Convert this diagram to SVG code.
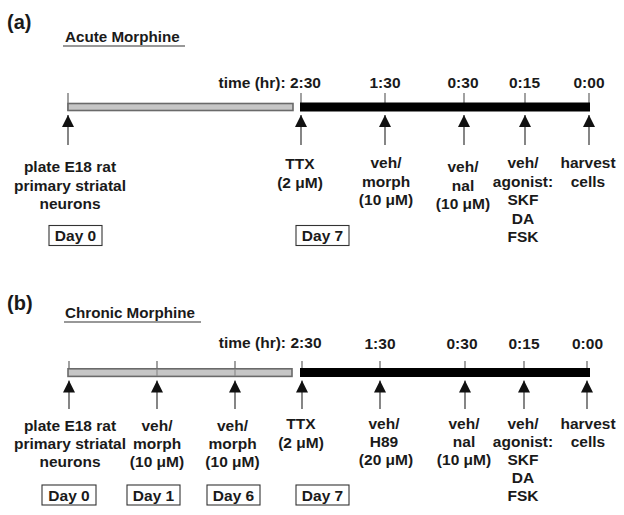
<svg xmlns="http://www.w3.org/2000/svg" width="624" height="515" viewBox="0 0 624 515">
<defs>
<style>
text{font-family:"Liberation Sans",Arial,sans-serif;font-weight:bold;font-size:15.5px;fill:#1a1a1a;text-anchor:middle}
.panel{font-size:20px;text-anchor:start}
.title{text-anchor:start;font-size:15.2px}
.tl{font-size:15.5px}
.grey{fill:#c6c6c6;stroke:#6a6a6a;stroke-width:1.6}
.black{fill:#000}
.tick{stroke:#555;stroke-width:1.1}
.arrow{stroke:#444;stroke-width:1.3;fill:none;marker-end:url(#ah)}
.box{fill:#fff;stroke:#333;stroke-width:1.1}
.ul{stroke:#333;stroke-width:1.1}
</style>
<marker id="ah" markerUnits="userSpaceOnUse" markerWidth="12" markerHeight="12" viewBox="0 0 11 11" refX="11" refY="5.5" orient="auto">
<path d="M0,0 L11,5.5 L0,11 z" fill="#111"/>
</marker>
</defs>
<rect width="624" height="515" fill="#fff"/>

<!-- Panel (a) -->
<g id="panel-a-header">
<text class="panel" x="7" y="29">(a)</text>
<text class="title" x="65" y="41.5">Acute Morphine</text>
<line class="ul" x1="63" y1="46" x2="185" y2="46"/>
</g>
<g id="timeline-a">
<line class="tick" x1="68" y1="93" x2="68" y2="111"/>
<line class="tick" x1="301" y1="93" x2="301" y2="111"/>
<line class="tick" x1="385" y1="93" x2="385" y2="111"/>
<line class="tick" x1="464" y1="93" x2="464" y2="111"/>
<line class="tick" x1="525" y1="93" x2="525" y2="111"/>
<line class="tick" x1="589" y1="93" x2="589" y2="111"/>
<rect class="grey" x="68" y="103.5" width="225" height="7"/>
<rect class="black" x="300" y="102.5" width="290" height="9"/>
<text x="321" y="87.5" style="text-anchor:end">time (hr): 2:30</text>
<text x="385" y="88">1:30</text>
<text x="463" y="88">0:30</text>
<text x="524.5" y="88">0:15</text>
<text x="589" y="88">0:00</text>
</g>
<g id="connectors-a">
<line class="arrow" x1="68" y1="145" x2="68" y2="115"/>
<line class="arrow" x1="301" y1="145" x2="301" y2="115"/>
<line class="arrow" x1="385" y1="145" x2="385" y2="115"/>
<line class="arrow" x1="464" y1="145" x2="464" y2="115"/>
<line class="arrow" x1="525" y1="145" x2="525" y2="115"/>
<line class="arrow" x1="589" y1="145" x2="589" y2="115"/>
</g>
<g id="a-plate">
<text x="70" y="172">plate E18 rat</text>
<text x="70" y="190.5">primary striatal</text>
<text x="70" y="209">neurons</text>
<rect class="box" x="49" y="225.5" width="53" height="20"/>
<text x="75.5" y="241">Day 0</text>
</g>
<g id="a-ttx">
<text x="300" y="169">TTX</text>
<text x="300" y="187.5">(2 μM)</text>
<rect class="box" x="296" y="225.5" width="53" height="20"/>
<text x="322.5" y="241">Day 7</text>
</g>
<g id="a-morph">
<text x="386" y="168">veh/</text>
<text x="386" y="186.5">morph</text>
<text x="386" y="205">(10 μM)</text>
</g>
<g id="a-nal">
<text x="463" y="172">veh/</text>
<text x="463" y="190.5">nal</text>
<text x="463" y="209">(10 μM)</text>
</g>
<g id="a-agonist">
<text x="523" y="168">veh/</text>
<text x="523" y="186.5">agonist:</text>
<text x="523" y="205">SKF</text>
<text x="523" y="223.5">DA</text>
<text x="523" y="242">FSK</text>
</g>
<g id="a-harvest">
<text x="588" y="168">harvest</text>
<text x="588" y="186.5">cells</text>
</g>

<!-- Panel (b) -->
<g id="panel-b-header">
<text class="panel" x="7" y="310">(b)</text>
<text class="title" x="65" y="317.5">Chronic Morphine</text>
<line class="ul" x1="64" y1="322" x2="201" y2="322"/>
</g>
<g id="timeline-b">
<line class="tick" x1="69" y1="361" x2="69" y2="377"/>
<line class="tick" x1="157" y1="361" x2="157" y2="377"/>
<line class="tick" x1="235" y1="361" x2="235" y2="377"/>
<line class="tick" x1="302" y1="361" x2="302" y2="377"/>
<line class="tick" x1="380" y1="361" x2="380" y2="377"/>
<line class="tick" x1="465" y1="361" x2="465" y2="377"/>
<line class="tick" x1="524" y1="361" x2="524" y2="377"/>
<line class="tick" x1="587" y1="361" x2="587" y2="377"/>
<rect class="grey" x="68" y="368.8" width="224" height="7.6"/>
<line class="tick" x1="157" y1="369" x2="157" y2="376" style="stroke:#888"/>
<line class="tick" x1="235" y1="369" x2="235" y2="376" style="stroke:#888"/>
<rect class="black" x="300" y="368" width="290" height="9"/>
<text x="286" y="348" style="text-anchor:end">time (hr):</text>
<text x="306" y="348">2:30</text>
<text x="380" y="348.5">1:30</text>
<text x="462" y="348.5">0:30</text>
<text x="524" y="348.5">0:15</text>
<text x="587.5" y="348.5">0:00</text>
</g>
<g id="connectors-b">
<line class="arrow" x1="69" y1="409" x2="69" y2="380.5"/>
<line class="arrow" x1="157" y1="409" x2="157" y2="380.5"/>
<line class="arrow" x1="235" y1="409" x2="235" y2="380.5"/>
<line class="arrow" x1="302" y1="409" x2="302" y2="380.5"/>
<line class="arrow" x1="380" y1="409" x2="380" y2="380.5"/>
<line class="arrow" x1="465" y1="409" x2="465" y2="380.5"/>
<line class="arrow" x1="524" y1="409" x2="524" y2="380.5"/>
<line class="arrow" x1="587" y1="409" x2="587" y2="380.5"/>
</g>
<g id="b-plate">
<text x="70" y="430.5">plate E18 rat</text>
<text x="70" y="448.7">primary striatal</text>
<text x="70" y="466.9">neurons</text>
<rect class="box" x="42" y="485" width="54" height="20"/>
<text x="69" y="500.5">Day 0</text>
</g>
<g id="b-day1">
<text x="157" y="430.5">veh/</text>
<text x="157" y="448.7">morph</text>
<text x="157" y="466.9">(10 μM)</text>
<rect class="box" x="127" y="485" width="53" height="20"/>
<text x="153.5" y="500.5">Day 1</text>
</g>
<g id="b-day6">
<text x="232.5" y="430.5">veh/</text>
<text x="232.5" y="448.7">morph</text>
<text x="232.5" y="466.9">(10 μM)</text>
<rect class="box" x="207" y="485" width="53" height="20"/>
<text x="233.5" y="500.5">Day 6</text>
</g>
<g id="b-ttx">
<text x="301" y="429.3">TTX</text>
<text x="301" y="447.5">(2 μM)</text>
<rect class="box" x="296" y="485" width="53" height="20"/>
<text x="322.5" y="500.5">Day 7</text>
</g>
<g id="b-h89">
<text x="384" y="428.5">veh/</text>
<text x="384" y="446.7">H89</text>
<text x="386" y="464.9">(20 μM)</text>
</g>
<g id="b-nal">
<text x="464" y="428.5">veh/</text>
<text x="464" y="446.7">nal</text>
<text x="464" y="464.9">(10 μM)</text>
</g>
<g id="b-agonist">
<text x="523" y="428.5">veh/</text>
<text x="523" y="446.7">agonist:</text>
<text x="523" y="464.9">SKF</text>
<text x="523" y="483.1">DA</text>
<text x="523" y="501.3">FSK</text>
</g>
<g id="b-harvest">
<text x="588" y="428.5">harvest</text>
<text x="588" y="446.7">cells</text>
</g>
</svg>
